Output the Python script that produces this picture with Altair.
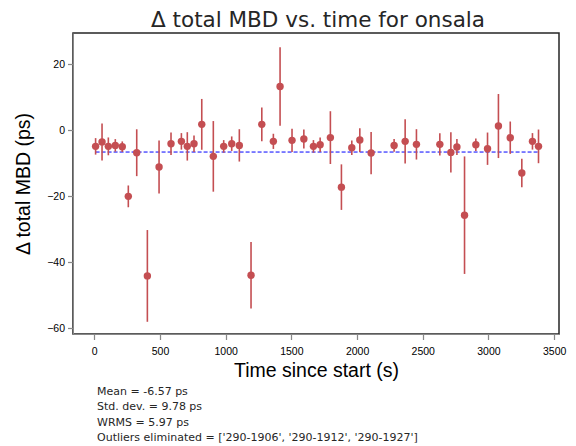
import altair as alt
import pandas as pd

# Data
time_s = [10, 59, 107, 160, 213, 259, 323, 404, 493, 584, 663, 708, 759, 818, 906,
          985, 1046, 1104, 1193, 1275, 1363, 1414, 1505, 1595, 1668, 1719, 1797, 1881,
          1960, 2021, 2107, 2282, 2366, 2452, 2630, 2714, 2760, 2818, 2904, 2993, 3076,
          3166, 3254, 3335, 3381]
delta_mbd = [-4.85, -3.5, -4.85, -4.55, -4.95, -20.0, -6.77, -44.1, -11.1, -4.04, -3.33,
             -4.85, -4.04, 1.82, -7.88, -4.85, -4.04, -4.55, -43.9, 1.82, -3.33, 13.3,
             -3.03, -2.63, -4.85, -4.34, -2.2, -17.2, -5.25, -2.93, -6.87, -4.55, -3.33,
             -4.24, -4.24, -6.67, -5.05, -25.7, -4.34, -5.56, 1.31, -2.22, -12.9, -3.33,
             -4.85]
err = [2.5, 5.6, 2.7, 1.9, 1.6, 3.3, 7.1, 13.9, 8.0, 3.4, 2.5, 4.3, 2.5, 7.7, 10.7,
       1.9, 2.2, 4.9, 10.1, 5.1, 2.3, 11.9, 3.5, 2.9, 1.9, 2.2, 8.0, 6.9, 2.2, 3.6,
       6.4, 1.9, 6.7, 4.6, 3.4, 6.1, 2.4, 17.8, 1.9, 4.9, 9.7, 4.9, 4.3, 2.5, 5.1]
mean_val = -6.57
title_text = "Δ total MBD vs. time for onsala"
stats_lines = [
    "Mean = -6.57 ps",
    "Std. dev. = 9.78 ps",
    "WRMS = 5.97 ps",
    "Outliers eliminated = ['290-1906', '290-1912', '290-1927']",
]

df = pd.DataFrame({"t": time_s, "y": delta_mbd, "e": err})
df["lo"] = df["y"] - df["e"]
df["hi"] = df["y"] + df["e"]
mean_df = pd.DataFrame({"t0": [min(time_s)], "t1": [max(time_s)], "m": [mean_val]})

RED = "#C44E52"
INK = "#262626"
FONT = "DejaVu Sans"

xscale = alt.Scale(domain=[-162, 3537], nice=False, zero=False)
yscale = alt.Scale(domain=[-61.7, 29.5], nice=False, zero=False)

xaxis = alt.Axis(values=[0, 500, 1000, 1500, 2000, 2500, 3000, 3500], format="d",
                 title="Time since start (s)",
                 grid=False, tickSize=5.5, tickWidth=1.25, labelFontSize=10.5, titleFontSize=19.5,
                 labelPadding=7, titlePadding=4, titleFontWeight="normal")
yaxis = alt.Axis(values=[-60, -40, -20, 0, 20], format="d", title="Δ total MBD (ps)",
                 grid=False, tickSize=5.5, tickWidth=1.25, labelFontSize=10.5, titleFontSize=19.5,
                 labelPadding=3, titlePadding=13, titleFontWeight="normal")

base = alt.Chart(df)

mean_line = alt.Chart(mean_df).mark_rule(color="#0000FF", strokeWidth=1, strokeDash=[4, 2]).encode(
    x=alt.X("t0:Q", scale=xscale, axis=xaxis),
    x2="t1:Q",
    y=alt.Y("m:Q", scale=yscale, axis=yaxis),
)

bars = base.mark_rule(color=RED, strokeWidth=1.6).encode(
    x=alt.X("t:Q", scale=xscale),
    y=alt.Y("lo:Q", scale=yscale),
    y2="hi:Q",
)

pts = base.mark_circle(color=RED, size=55, opacity=1).encode(
    x=alt.X("t:Q", scale=xscale),
    y=alt.Y("y:Q", scale=yscale),
)

one_row = pd.DataFrame({"k": [0]})

title_mark = alt.Chart(one_row).mark_text(
    text=title_text, align="center", baseline="alphabetic", fontSize=21.5,
    color=INK, font=FONT,
).encode(x=alt.value(245), y=alt.value(-6))

stats = alt.Chart(one_row).mark_text(
    text=stats_lines, align="left", baseline="alphabetic", fontSize=11, lineHeight=15.3,
    color=INK, font=FONT,
).encode(x=alt.value(24), y=alt.value(362))

chart = alt.layer(mean_line, bars, pts, title_mark, stats).properties(
    width=486, height=301,
    autosize=alt.AutoSizeParams(type="none"),
    padding={"left": 65, "top": 25, "right": 9, "bottom": 112},
    view=alt.ViewBackground(stroke=INK, strokeWidth=1.5),
).configure_view(stroke=INK, strokeWidth=1.5).configure_axis(
    labelFont=FONT, titleFont=FONT, labelColor=INK, titleColor=INK,
    domainColor=INK, tickColor=INK, domainWidth=1.25,
).configure(background="white")

chart.save("out.html", embed_options={"renderer": "svg", "actions": False})
